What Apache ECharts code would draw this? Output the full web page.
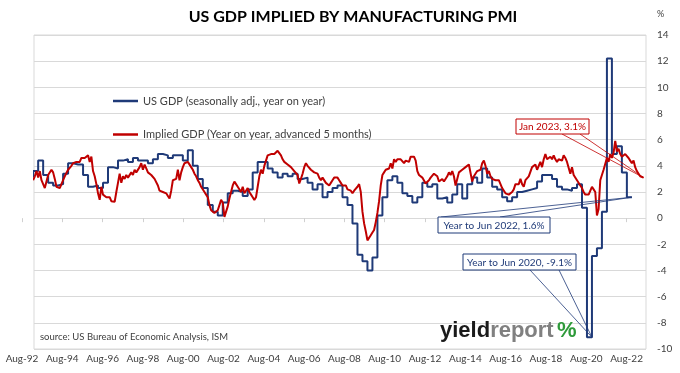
<!DOCTYPE html>
<html><head><meta charset="utf-8">
<script src="https://cdn.jsdelivr.net/npm/echarts@6/dist/echarts.min.js"></script>
<style>html,body{margin:0;padding:0;background:#fff}#c{width:680px;height:373px}</style>
</head><body><div id="c"></div>
<script>
// X positions are months counted from Aug-1992 (= 0)
const tickLabels = ['Aug-92','Aug-94','Aug-96','Aug-98','Aug-00','Aug-02','Aug-04','Aug-06','Aug-08','Aug-10','Aug-12','Aug-14','Aug-16','Aug-18','Aug-20','Aug-22'];

// US GDP, % year on year, quarterly, first value = quarter ending Jun-1992
const gdpFirstMonth = -2;
const gdpValues = [
  3.1, 3.6, 4.4,
  3.3, 2.7, 2.5, 2.6,
  3.4, 4.2, 4.1, 4.1,
  3.3, 2.4, 2.5, 2.3,
  2.7, 3.9, 3.8, 4.4,
  4.5, 4.3, 4.6, 4.4,
  4.4, 4.2, 4.5, 4.9,
  4.8, 4.6, 4.8, 4.8,
  4.4, 5.2, 4.0, 3.0,
  2.3, 1.0, 0.5, 0.2,
  1.2, 1.9, 2.1, 2.0,
  1.7, 2.2, 3.5, 4.3,
  4.3, 3.8, 3.5, 3.1,
  3.4, 3.2, 3.4, 3.0,
  3.1, 2.7, 2.2, 2.6,
  1.6, 2.0, 2.3, 2.5,
  1.6, 1.0, -0.4, -2.8,
  -3.3, -4.0, -3.0, 0.2,
  1.6, 2.9, 3.2, 2.7,
  1.9, 1.7, 1.2, 1.6,
  2.7, 2.4, 2.6, 1.5,
  1.6, 1.2, 1.8, 2.6,
  1.5, 2.6, 3.1, 2.7,
  3.8, 3.1, 2.4, 2.2,
  1.6, 1.3, 1.6, 2.0,
  2.1, 2.2, 2.3, 2.8,
  3.3, 3.3, 3.0, 2.4,
  2.2, 2.1, 2.3, 2.6,
  0.8, -9.1, -2.9, -2.3,
  0.5, 12.2, 4.9, 5.5,
  3.5, 1.6
];

// Implied GDP from PMI, monthly, first value = Jun-1992
const impliedFirstMonth = -2;
const impliedValues = [
  2.9, 3.2, 3.6, 3.1, 3.6, 2.9, 2.6,
  2.3, 2.8, 3.3, 3.4, 3.7, 3.5, 3.0, 2.4, 2.5, 2.3, 2.6, 2.9,
  3.2, 3.3, 3.7, 3.8, 4.0, 4.2, 4.1, 4.3, 4.4, 4.3, 4.6, 4.5,
  4.6, 4.7, 4.8, 4.3, 4.7, 3.6, 3.2, 2.6, 1.9, 1.4, 2.4, 1.8,
  1.9, 1.6, 1.5, 1.6, 1.3, 1.4, 1.25, 2.0, 2.7, 3.4, 2.7, 3.2,
  3.0, 3.3, 3.1, 3.2, 3.5, 3.3, 3.7, 3.5, 3.6, 3.9, 4.2, 3.7,
  4.1, 3.8, 3.5, 3.4, 3.3, 3.2, 3.0, 2.9, 2.5, 2.1, 2.2, 2.0,
  2.0, 1.9, 1.7, 1.5, 2.1, 2.9, 3.0, 3.0, 3.7, 2.9, 3.5, 3.9,
  4.2, 4.1, 4.3, 4.2, 3.9, 3.7, 3.4, 3.2, 2.9, 2.7, 2.4, 2.3,
  2.0, 1.8, 1.6, 1.0, 0.6, 0.7, 0.4, 0.5, 0.6, 1.0, 1.4, 1.2,
  0.1, 0.05, 0.9, 1.5, 2.0, 2.5, 2.8, 2.6, 2.4, 2.5, 2.0, 2.4,
  1.9, 2.1, 2.3, 2.0, 1.8, 1.6, 1.4, 1.6, 2.4, 3.2, 3.7, 3.4,
  4.0, 4.4, 4.8, 4.7, 4.9, 5.0, 4.9, 5.0, 5.15, 5.0, 4.8, 4.5,
  4.3, 4.2, 4.1, 4.2, 3.9, 3.8, 3.6, 3.7, 3.3, 2.65, 3.0, 3.4,
  3.9, 4.2, 4.0, 4.1, 3.7, 3.6, 3.5, 3.5, 3.4, 3.1, 2.9, 3.1,
  3.2, 2.7, 2.6, 2.5, 2.7, 2.9, 3.1, 3.0, 3.1, 2.9, 2.7, 2.5,
  2.4, 2.5, 2.2, 2.3, 2.1, 1.9, 2.1, 2.2, 2.4, 2.6, 2.0, 0.5,
  -0.4, -1.0, -1.7, -1.8, -1.3, -1.1, -0.9, -0.3, 0.4, 1.3, 2.5, 3.3,
  3.5, 3.7, 3.6, 3.8, 4.2, 3.8, 4.5, 4.3, 4.5, 4.6, 4.5, 4.4,
  4.2, 4.4, 4.5, 4.3, 4.7, 4.6, 4.7, 4.4, 3.6, 3.3, 3.4, 3.1,
  3.0, 2.65, 2.8, 2.9, 3.1, 3.2, 3.4, 3.5, 3.2, 2.8, 2.9, 3.0,
  2.8, 2.9, 3.2, 3.5, 3.3, 3.6, 3.2, 2.5, 3.0, 3.5, 3.6, 3.7,
  3.8, 3.9, 3.9, 4.1, 4.0, 2.8, 3.2, 3.3, 3.6, 3.7, 3.7, 4.2,
  4.4, 4.0, 3.4, 3.6, 3.2, 3.0, 3.1, 2.9, 2.8, 2.9, 2.8, 2.3,
  2.3, 1.9, 2.0, 1.8, 1.8, 2.0, 2.2, 2.6, 2.5, 2.6, 3.0, 2.6,
  2.4, 2.9, 2.9, 3.2, 3.2, 3.9, 4.0, 4.1, 3.7, 3.8, 4.3, 3.9,
  4.5, 4.9, 4.5, 4.4, 4.7, 4.5, 4.8, 4.5, 4.3, 4.5, 4.6, 4.4,
  4.8, 4.6, 4.3, 4.2, 3.4, 3.9, 3.3, 3.4, 2.9, 2.8, 2.5, 2.3,
  2.0, 1.8, 1.9, 1.8, 1.7, 2.4, 2.2, 2.0, 0.2, 0.7, 2.9, 3.3,
  3.7, 3.8, 4.6, 4.3, 4.9, 4.6, 5.0, 5.9, 5.1, 5.3, 4.9, 4.7,
  4.7, 4.9, 4.8, 4.6, 4.4, 4.2, 4.4, 3.9, 3.6, 3.7, 3.2, 3.2,
  3.1
];

const seriesNames = ['US GDP (seasonally adj., year on year)', 'Implied GDP (Year on year, advanced 5 months)'];
const calloutTexts = ['Jan 2023, 3.1%', 'Year to Jun 2022, 1.6%', 'Year to Jun 2020, -9.1%'];

const BLUE = '#1f3a78', RED = '#c00000', FONT = 'Lato, "Liberation Sans", sans-serif';

const gdpData = gdpValues.map((v, i) => [gdpFirstMonth + 3 * i, v]);
const impliedData = impliedValues.map((v, i) => [impliedFirstMonth + i, v]);

const chart = echarts.init(document.getElementById('c'), null, {renderer: 'canvas'});
chart.setOption({
  animation: false,
  backgroundColor: '#fff',
  grid: [
    {left: 34, right: 34, top: 35, bottom: 24, show: true, borderColor: '#d9d9d9', borderWidth: 1, containLabel: false},
    {left: 22, right: 40, top: 35, bottom: 24, show: false, containLabel: false}
  ],
  legend: {
    orient: 'vertical', left: 108, top: 89, itemGap: 19.5, icon: 'rect', itemWidth: 25, itemHeight: 2.5,
    data: seriesNames,
    textStyle: {fontFamily: FONT, fontSize: 11, color: '#404040', lineHeight: 14}
  },
  xAxis: [{
    // data axis
    type: 'value', gridIndex: 0, min: -1.5, max: 366.5, show: false
  }, {
    // label axis (Excel-style date labels)
    type: 'value', gridIndex: 1, min: 0, max: 368, interval: 24, position: 'bottom',
    axisLine: {show: false},
    axisTick: {show: true, length: 4, lineStyle: {color: '#d0d0d0'}},
    splitLine: {show: false},
    axisLabel: {
      showMaxLabel: false, margin: 5, color: '#404040', fontFamily: FONT, fontSize: 10,
      formatter: v => (v % 24 === 0 && tickLabels[v / 24]) ? tickLabels[v / 24] : ''
    }
  }],
  yAxis: [{
    type: 'value', gridIndex: 0, position: 'right', min: -10, max: 14, interval: 2,
    axisLine: {show: false}, axisTick: {show: false},
    splitLine: {lineStyle: {color: '#d9d9d9', width: 1}},
    axisLabel: {margin: 11, color: '#404040', fontFamily: FONT, fontSize: 10, align: 'left'}
  }, {
    type: 'value', gridIndex: 1, min: -10, max: 14, show: false
  }],
  series: [{
    name: seriesNames[0], type: 'line', xAxisIndex: 0, yAxisIndex: 0, step: 'start', data: gdpData,
    showSymbol: false, symbol: 'none', color: BLUE, lineStyle: {width: 2, color: BLUE}
  }, {
    name: seriesNames[1], type: 'line', xAxisIndex: 0, yAxisIndex: 0, data: impliedData,
    showSymbol: false, symbol: 'none', color: RED, lineStyle: {width: 2, color: RED}
  }]
});

function px(item) { return chart.convertToPixel({xAxisIndex: 0, yAxisIndex: 0}, item); }
const pRed = px(impliedData[impliedData.length - 1]);
const pJun22 = px(gdpData[gdpData.length - 1]);
const pJun20 = px(gdpData.find(d => d[1] === -9.1));

function callout(box, baseXs, baseY, pt, text, color) {
  return [
    {type: 'polyline', z: 10, shape: {points: [[baseXs[0], baseY], pt, [baseXs[1], baseY]]}, style: {stroke: color, lineWidth: 0.8, fill: null}},
    {type: 'rect', z: 11, shape: {x: box[0], y: box[1], width: box[2], height: box[3]}, style: {fill: '#fff', stroke: color, lineWidth: 1}},
    {type: 'text', z: 12, x: box[0] + box[2] / 2, y: box[1] + box[3] / 2 + 0.5, style: {text: text, fill: color, font: '10px ' + FONT, align: 'center', verticalAlign: 'middle'}}
  ];
}

chart.setOption({
  graphic: [
    {type: 'text', x: 353, y: 17, style: {text: 'US GDP IMPLIED BY MANUFACTURING PMI', font: 'bold 16px ' + FONT, fill: '#000', align: 'center', verticalAlign: 'middle'}},
    {type: 'text', x: 657, y: 14, style: {text: '%', font: '9px ' + FONT, fill: '#404040', align: 'left', verticalAlign: 'middle'}},
    {type: 'text', x: 40, y: 337, style: {text: 'source: US Bureau of Economic Analysis, ISM', font: '9.5px ' + FONT, fill: '#404040', align: 'left', verticalAlign: 'middle'}},
    {type: 'text', x: 440, y: 331, style: {
      text: '{a|yield}{b|report} {c|%}', align: 'left', verticalAlign: 'middle',
      rich: {
        a: {fill: '#1a1a1a', font: 'bold 22px "Liberation Sans", sans-serif'},
        b: {fill: '#808080', font: 'bold 22px "Liberation Sans", sans-serif'},
        c: {fill: '#2e9a3a', font: 'bold 22px "Liberation Sans", sans-serif'}
      }
    }},
    ...callout([516, 119, 73, 15], [562, 580], 134, pRed, calloutTexts[0], RED),
    ...callout([438, 217, 112, 16], [441, 500], 217, pJun22, calloutTexts[1], BLUE),
    ...callout([463, 254, 113, 16], [530, 559], 270, pJun20, calloutTexts[2], BLUE)
  ]
});
</script></body></html>
